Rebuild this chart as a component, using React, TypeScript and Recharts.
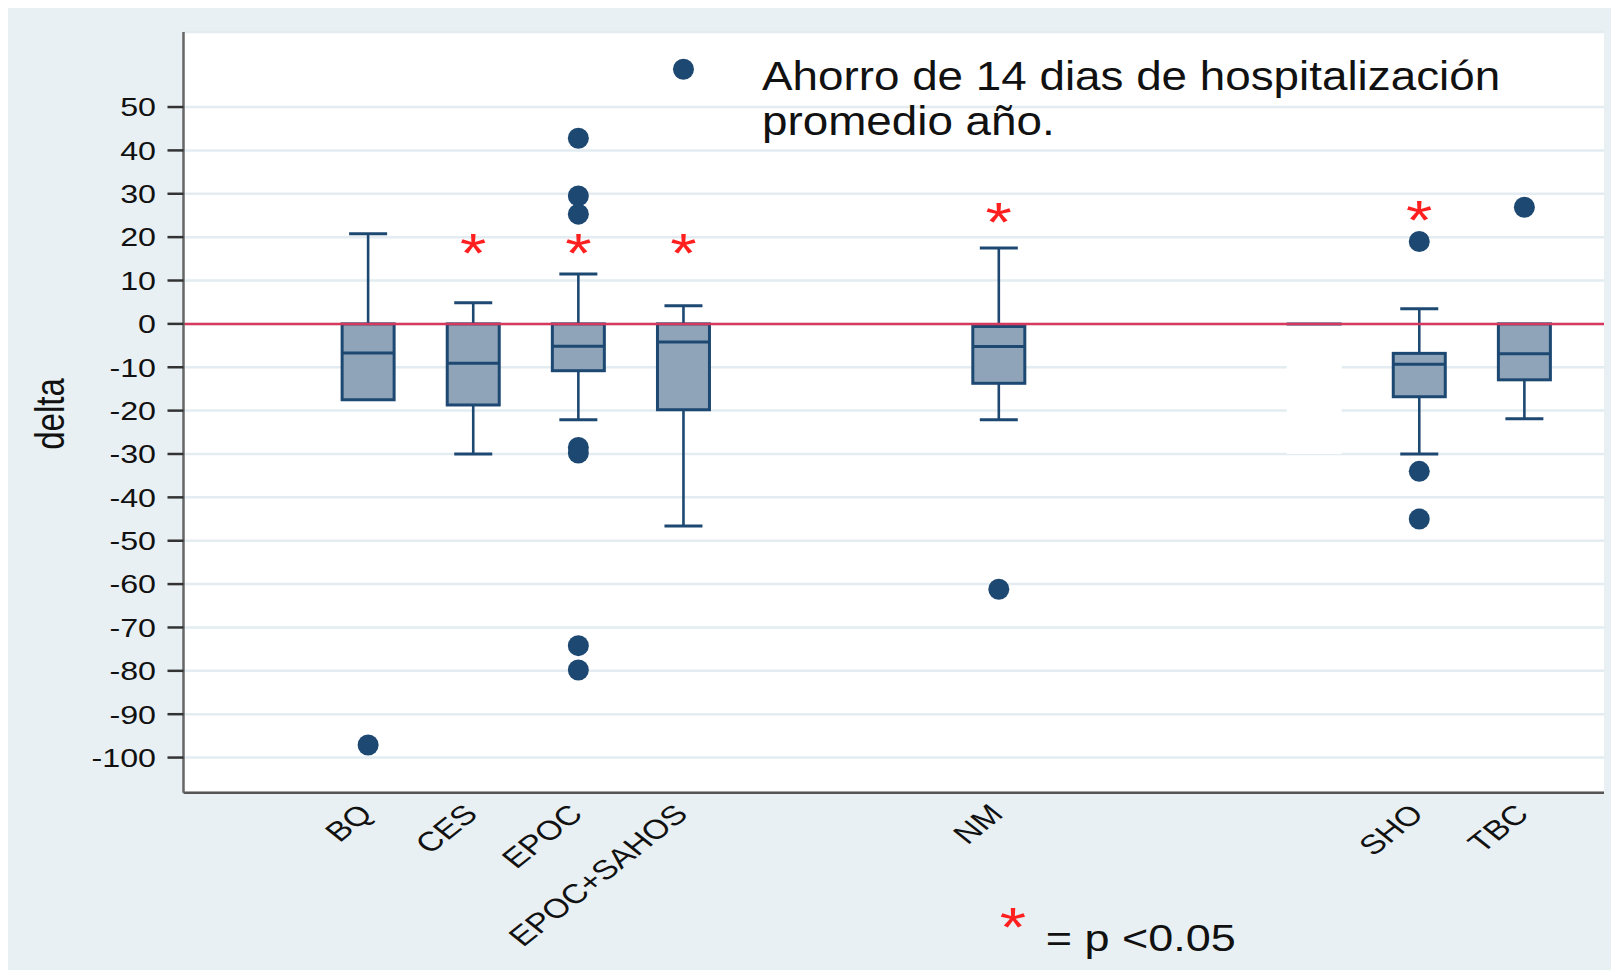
import React from 'react';
import { ComposedChart, Bar, XAxis, YAxis, CartesianGrid, ReferenceLine } from 'recharts';

// ---- data ----
const slotIds = ['h0', 'BQ', 'CES', 'EPOC', 'EPOC+SAHOS', 'g1', 'g2', 'NM', 'g3', 'g4', 'h1', 'SHO', 'TBC'];
const slotLabels = ['', 'BQ', 'CES', 'EPOC', 'EPOC+SAHOS', '', '', 'NM', '', '', '', 'SHO', 'TBC'];
const whiskerLow = [null, -17.5, -30, -22.1, -46.6, null, null, -22.1, null, null, null, -30, -21.9];
const q1 = [null, -17.5, -18.7, -10.8, -19.8, null, null, -13.7, null, null, -30, -16.8, -12.9];
const median = [null, -6.7, -9.1, -5.15, -4.2, null, null, -5.2, null, null, null, -9.3, -6.9];
const q3 = [null, 0, 0, 0, 0, null, null, -0.6, null, null, 0, -6.8, 0];
const whiskerHigh = [null, 20.8, 4.9, 11.5, 4.2, null, null, 17.5, null, null, null, 3.5, 0];
const outliers: number[][] = [
  [], [-97.1], [], [42.8, 29.5, 25.3, -28.5, -29.8, -74.2, -79.8], [58.7], [], [], [-61.2], [], [], [], [19, -34, -45], [26.9],
];
const significance = [null, null, 17.8, 17.8, 17.8, null, null, 24.8, null, null, null, 25.3, null];
const maskedSlot = [false, false, false, false, false, false, false, false, false, false, true, false, false];
const yTicks = [-100, -90, -80, -70, -60, -50, -40, -30, -20, -10, 0, 10, 20, 30, 40, 50];
const titleLines = ['Ahorro de 14 dias de hospitalización', 'promedio año.'];
const yLabel = 'delta';
const legendText = '= p <0.05';

const NAVY = '#1C4872';
const BOXFILL = '#8FA4B9';
const RED = '#FF1F1F';
const FONT = '"Liberation Sans", Arial, Helvetica, sans-serif';

const data = slotIds.map((id, i) => {
  const vals: number[] = [];
  [whiskerLow[i], q1[i], median[i], q3[i], whiskerHigh[i], significance[i]].forEach((v) => {
    if (v !== null && v !== undefined) vals.push(v as number);
  });
  outliers[i].forEach((v) => vals.push(v));
  const range = vals.length ? [Math.min(...vals), Math.max(...vals)] : undefined;
  return {
    id,
    range,
    wl: whiskerLow[i],
    q1: q1[i],
    med: median[i],
    q3: q3[i],
    wh: whiskerHigh[i],
    out: outliers[i],
    star: significance[i],
    masked: maskedSlot[i],
  };
});

const BoxShape = (props: any) => {
  const { x, y, width, height, payload } = props;
  if (!payload || !payload.range) return <g />;
  const [lo, hi] = payload.range;
  const top = Math.min(y, y + height);
  const bot = Math.max(y, y + height);
  const py = (v: number) => (hi === lo ? top : top + ((hi - v) / (hi - lo)) * (bot - top));
  const cx = x + width / 2;
  const left = x;
  const right = x + width;
  const capHalf = 19;

  if (payload.masked) {
    const yt = py(payload.q3);
    const yb = py(payload.q1);
    return (
      <g>
        <rect x={left} y={yt} width={width} height={yb - yt} fill="#FFFFFF" />
        <line x1={left} x2={right} y1={yt} y2={yt} stroke={NAVY} strokeWidth={3} />
      </g>
    );
  }

  const yq1 = py(payload.q1);
  const yq3 = py(payload.q3);
  const ymed = py(payload.med);
  const ywl = py(payload.wl);
  const ywh = py(payload.wh);

  return (
    <g>
      {payload.wh > payload.q3 && (
        <g>
          <line x1={cx} x2={cx} y1={ywh} y2={yq3} stroke={NAVY} strokeWidth={2.6} />
          <line x1={cx - capHalf} x2={cx + capHalf} y1={ywh} y2={ywh} stroke={NAVY} strokeWidth={3} />
        </g>
      )}
      {payload.wl < payload.q1 && (
        <g>
          <line x1={cx} x2={cx} y1={yq1} y2={ywl} stroke={NAVY} strokeWidth={2.6} />
          <line x1={cx - capHalf} x2={cx + capHalf} y1={ywl} y2={ywl} stroke={NAVY} strokeWidth={3} />
        </g>
      )}
      <rect x={left + 1.5} y={yq3} width={width - 3} height={yq1 - yq3} fill={BOXFILL} stroke={NAVY} strokeWidth={3} />
      <line x1={left + 1.5} x2={right - 1.5} y1={ymed} y2={ymed} stroke={NAVY} strokeWidth={3} />
      {payload.out.map((v: number, k: number) => (
        <circle key={k} cx={cx} cy={py(v)} r={10.5} fill={NAVY} />
      ))}
      {payload.star !== null && payload.star !== undefined && (
        <g transform={`translate(${cx},${py(payload.star) + 25}) scale(1.21,1)`}>
          <text x={0} y={0} textAnchor="middle" fontSize={56} fontFamily={FONT} fill={RED}>
            *
          </text>
        </g>
      )}
    </g>
  );
};

const XTick = (props: any) => {
  const { x, y, payload } = props;
  const i = slotIds.indexOf(payload.value);
  const label = slotLabels[i];
  if (!label) return <g />;
  return (
    <g transform={`translate(${x + 6},${y + 23}) scale(1.26,1) rotate(-45)`}>
      <text x={0} y={0} textAnchor="end" fontSize={27} fontFamily={FONT} fill="#111">
        {label}
      </text>
    </g>
  );
};

const YTick = (props: any) => {
  const { x, y, payload } = props;
  return (
    <g transform={`translate(${x},${y}) scale(1.24,1)`}>
      <text x={0} y={0} dy="0.358em" textAnchor="end" fontSize={26} fontFamily={FONT} fill="#111">
        {payload.value}
      </text>
    </g>
  );
};

export default function App() {
  return (
    <div style={{ position: 'relative', width: 1611, height: 962, background: '#E8F0F3' }}>
      <ComposedChart width={1611} height={962} data={data} margin={{ top: 24, right: 15, bottom: 7.3, left: 0 }}>
        <CartesianGrid vertical={false} stroke="#E3ECF0" strokeWidth={2.5} fill="#FFFFFF" fillOpacity={1} />
        <XAxis
          dataKey="id"
          type="category"
          interval={0}
          tickLine={false}
          tickSize={0}
          tickMargin={0}
          height={170}
          padding={{ left: 27, right: 27 }}
          axisLine={{ stroke: '#555', strokeWidth: 2.5 }}
          tick={<XTick />}
        />
        <YAxis
          type="number"
          domain={[-108.1, 67.3]}
          ticks={yTicks}
          interval={0}
          width={175.5}
          tickSize={16}
          tickMargin={11.5}
          tickLine={{ stroke: '#333', strokeWidth: 2.5 }}
          axisLine={{ stroke: '#666', strokeWidth: 2.5 }}
          tick={<YTick />}
          allowDataOverflow
        />
        <ReferenceLine y={0} stroke="#D6395E" strokeWidth={2.5} />
        <Bar dataKey="range" barSize={55} shape={BoxShape} isAnimationActive={false} />
      </ComposedChart>
      <svg
        width={1611}
        height={962}
        style={{ position: 'absolute', left: 0, top: 0, pointerEvents: 'none' }}
      >
        <g transform="translate(754,82) scale(1.117,1)">
          <text x={0} y={0} fontSize={41} fontFamily={FONT} fill="#111">
            {titleLines[0]}
          </text>
        </g>
        <g transform="translate(754,127) scale(1.117,1)">
          <text x={0} y={0} fontSize={41} fontFamily={FONT} fill="#111">
            {titleLines[1]}
          </text>
        </g>
        <g transform="translate(41,406) scale(1.24,1) rotate(-90)">
          <text x={0} y={0} dy="0.36em" textAnchor="middle" fontSize={33} fontFamily={FONT} fill="#111">
            {yLabel}
          </text>
        </g>
        <g transform="translate(1005,938) scale(1.21,1)">
          <text x={0} y={0} textAnchor="middle" fontSize={56} fontFamily={FONT} fill={RED}>
            *
          </text>
        </g>
        <g transform="translate(1037.7,943) scale(1.25,1)">
          <text x={0} y={0} fontSize={36} fontFamily={FONT} fill="#111">
            {legendText}
          </text>
        </g>
      </svg>
    </div>
  );
}
